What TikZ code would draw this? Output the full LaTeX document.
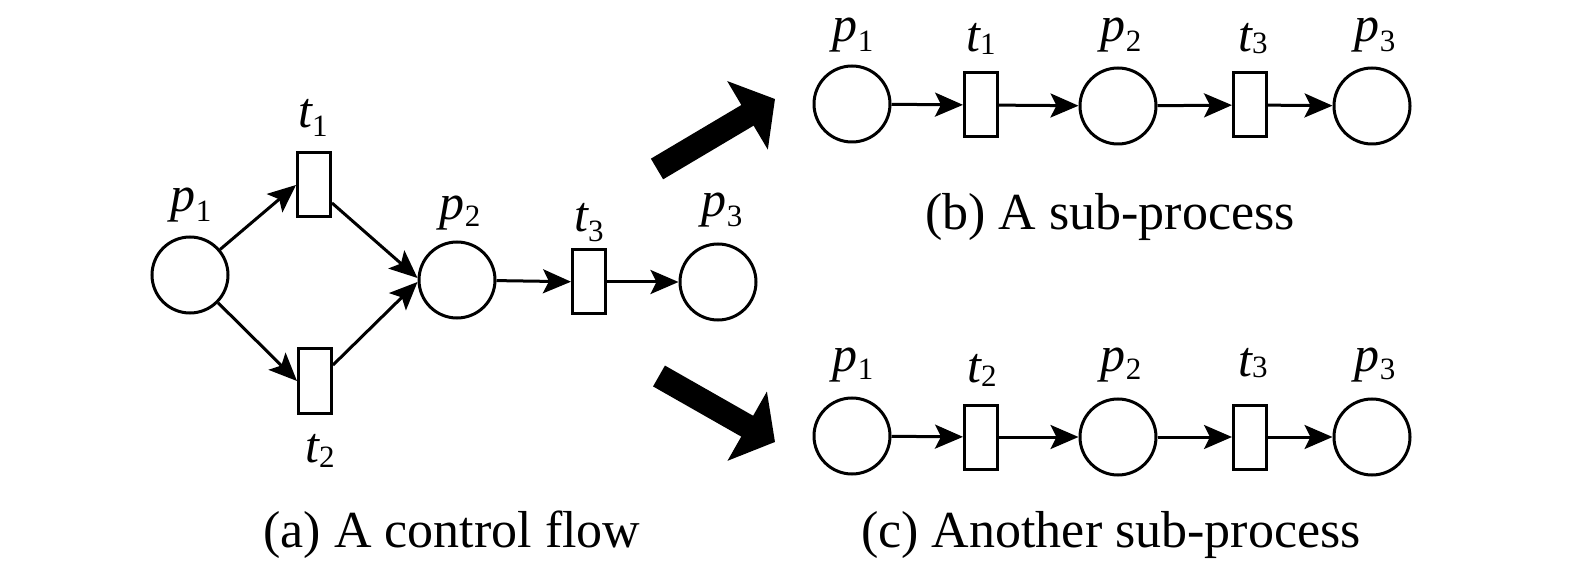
\documentclass[tikz,border=0pt]{standalone}
\usepackage{fontspec}
\setmainfont{Liberation Serif}
\usetikzlibrary{arrows.meta,calc}
\newcommand{\lab}[3]{{\itshape #1}\raisebox{-#3pt}{\fontsize{31}{31}\selectfont #2}}
\begin{document}
\begin{tikzpicture}[x=1pt,y=-1pt,
  place/.style={circle,draw,line width=3pt,minimum size=76pt,inner sep=0pt},
  trans/.style={rectangle,draw,line width=3pt,minimum width=33pt,minimum height=64pt,inner sep=0pt},
  arc/.style={line width=3pt,-{Stealth[length=28pt,width=24pt,inset=6pt]}},
  lbl/.style={font=\fontsize{50}{60}\selectfont,anchor=base,inner sep=0pt},
  captext/.style={font=\fontsize{52}{60}\selectfont,anchor=base,inner sep=0pt},
  bigarrow/.style={line width=24pt,-{Triangle[length=32pt,width=78pt]}}]
\useasboundingbox (0,0) rectangle (1575,569);
% (a) control flow
\node[place] (ap1) at (190,275) {};
\node[trans] (at1) at (314,185) {};
\node[trans] (at2) at (315,381) {};
\node[place] (ap2) at (457,280) {};
\node[trans] (at3) at (589,282) {};
\node[place] (ap3) at (718,282) {};
\node[lbl] (lap1) at (191,212) {\lab{p}{1}{10}};
\node[lbl] (lat1) at (313,128) {\lab{t}{1}{9}};
\node[lbl] (lat2) at (320,462) {\lab{t}{2}{5}};
\node[lbl] (lap2) at (460,220) {\lab{p}{2}{7}};
\node[lbl] (lat3) at (589,232) {\lab{t}{3}{10}};
\node[lbl] (lap3) at (722,217) {\lab{p}{3}{10}};
\draw[arc] (ap1) -- (at1.west);
\draw[arc] (ap1) -- (at2.west);
\draw[arc] ($(at1.east)+(0,18)$) -- ($(ap2.west)+(0,-2)$);
\draw[arc] ($(at2.east)+(0,-16)$) -- ($(ap2.west)+(0,2)$);
\draw[arc] (ap2) -- (at3);
\draw[arc] (at3) -- (ap3);
\node[captext] (capa) at (452,547) {(a) A control flow};
% big arrows
\coordinate (ua0) at (657,169);
\coordinate (ua1) at (775,99);
\coordinate (la0) at (659,376);
\coordinate (la1) at (775,442);
\draw[bigarrow] (ua0) -- (ua1);
\draw[bigarrow] (la0) -- (la1);
% (b)
\node[place] (bp1) at (852,104) {};
\node[trans] (bt1) at (981,105) {};
\node[place] (bp2) at (1118,106) {};
\node[trans] (bt3) at (1250,105) {};
\node[place] (bp3) at (1372,106) {};
\node[lbl] (lbp1) at (853,42) {\lab{p}{1}{10}};
\node[lbl] (lbt1) at (981,52) {\lab{t}{1}{3}};
\node[lbl] (lbp2) at (1121,42) {\lab{p}{2}{10}};
\node[lbl] (lbt3) at (1253,52) {\lab{t}{3}{2}};
\node[lbl] (lbp3) at (1375,42) {\lab{p}{3}{10}};
\draw[arc] (bp1) -- (bt1);
\draw[arc] (bt1) -- (bp2);
\draw[arc] (bp2) -- (bt3);
\draw[arc] (bt3) -- (bp3);
\node[captext] (capb) at (1110,230) {(b) A sub-process};
% (c)
\node[place] (cp1) at (852,436) {};
\node[trans] (ct2) at (981,437) {};
\node[place] (cp2) at (1118,437) {};
\node[trans] (ct3) at (1250,437) {};
\node[place] (cp3) at (1372,437) {};
\node[lbl] (lcp1) at (853,372) {\lab{p}{1}{8}};
\node[lbl] (lct2) at (982,382) {\lab{t}{2}{5}};
\node[lbl] (lcp2) at (1121,372) {\lab{p}{2}{8}};
\node[lbl] (lct3) at (1253,377) {\lab{t}{3}{1}};
\node[lbl] (lcp3) at (1375,372) {\lab{p}{3}{8}};
\draw[arc] (cp1) -- (ct2);
\draw[arc] (ct2) -- (cp2);
\draw[arc] (cp2) -- (ct3);
\draw[arc] (ct3) -- (cp3);
\node[captext] (capc) at (1111,547) {(c) Another sub-process};
\end{tikzpicture}
\end{document}
